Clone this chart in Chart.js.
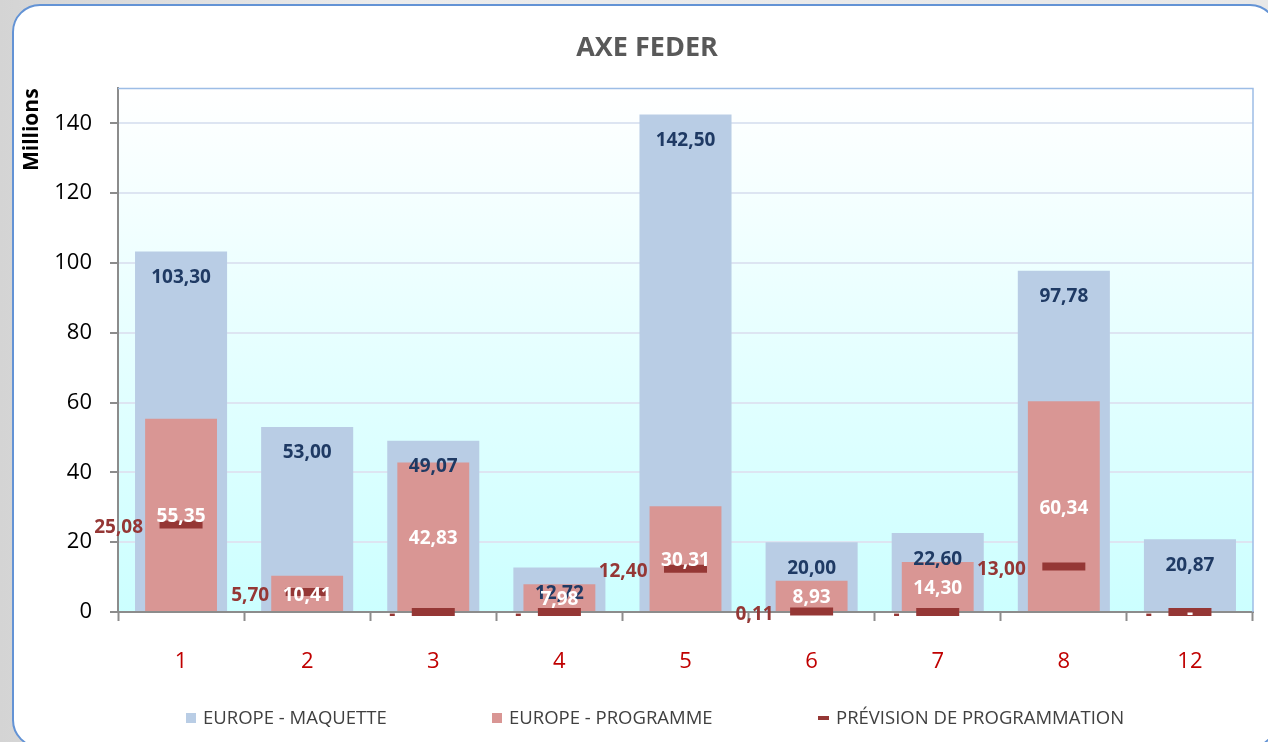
<!DOCTYPE html>
<html>
<head>
<meta charset="utf-8">
<script src="https://cdn.jsdelivr.net/npm/chart.js@4/dist/chart.umd.min.js"></script>
<style>
  html, body { margin: 0; padding: 0; width: 1268px; height: 742px; overflow: hidden; }
  body { background: linear-gradient(to right, #d4d4d4, #ececec 30%, #e8e8e8); font-family: "Open Sans", sans-serif; }
  #frame {
    position: absolute; left: 12px; top: 4px; width: 1262px; height: 740px;
    border: 2px solid #6393d5; border-radius: 28px; background: #fff;
  }
  #axeChart { position: absolute; left: 0; top: 0; }
  #legend { position: absolute; left: 0; top: 705px; width: 1268px; height: 24px; color: #404040; font-size: 18.5px; }
  .item { position: absolute; top: 0; line-height: 24px; white-space: nowrap; }
  .box { display: inline-block; width: 10px; height: 10px; margin-right: 7px; vertical-align: 1px; }
  .dash { display: inline-block; width: 11px; height: 4px; margin-right: 7px; vertical-align: 4px; background: #953735; }
</style>
</head>
<body>
<div id="frame"></div>
<canvas id="axeChart" width="1268" height="742"></canvas>
<div id="legend">
  <div class="item" style="left:186px"><span class="box" style="background:#b9cde5"></span>EUROPE - MAQUETTE</div>
  <div class="item" style="left:492px"><span class="box" style="background:#d99694"></span>EUROPE - PROGRAMME</div>
  <div class="item" style="left:818px"><span class="dash"></span>PRÉVISION DE PROGRAMMATION</div>
</div>
<script>
const categories = ['1', '2', '3', '4', '5', '6', '7', '8', '12'];
const maquette = [103.30, 53.00, 49.07, 12.72, 142.50, 20.00, 22.60, 97.78, 20.87];
const programme = [55.35, 10.41, 42.83, 7.98, 30.31, 8.93, 14.30, 60.34, 0];
const prevision = [25.08, 5.70, 0, 0, 12.40, 0.11, 0, 13.00, 0];
const yMax = 150;
const yStep = 20;

function fmt(v) {
    return v === 0 ? '-' : v.toFixed(2).replace('.', ',');
}

// fond dégradé + cadre du graphique
const fondPlot = {
    id: 'fondPlot',
    beforeDraw(chart) {
        const { ctx, chartArea: a } = chart;
        const g = ctx.createLinearGradient(0, a.top, 0, a.bottom);
        g.addColorStop(0, '#ffffff');
        g.addColorStop(1, '#ccffff');
        ctx.save();
        ctx.fillStyle = g;
        ctx.fillRect(a.left, a.top, a.right - a.left, a.bottom - a.top);
        ctx.restore();
    },
    afterDatasetsDraw(chart) {
        const { ctx, chartArea: a } = chart;
        ctx.save();
        ctx.strokeStyle = '#9dbde6';
        ctx.lineWidth = 1.5;
        ctx.beginPath();
        ctx.moveTo(a.left, a.top);
        ctx.lineTo(a.right, a.top);
        ctx.lineTo(a.right, a.bottom);
        ctx.stroke();
        ctx.restore();
    }
};

// étiquettes de valeurs
const etiquettes = {
    id: 'etiquettes',
    afterDatasetsDraw(chart) {
        const ctx = chart.ctx;
        ctx.save();
        ctx.font = 'bold 19px "Open Sans"';
        ctx.textBaseline = 'middle';

        const m0 = chart.getDatasetMeta(0);
        ctx.fillStyle = '#1f3a64';
        ctx.textAlign = 'center';
        m0.data.forEach((bar, i) => {
            ctx.fillText(fmt(maquette[i]), bar.x, bar.y + 26);
        });

        const m1 = chart.getDatasetMeta(1);
        ctx.fillStyle = '#ffffff';
        m1.data.forEach((bar, i) => {
            ctx.fillText(fmt(programme[i]), bar.x, (bar.y + bar.base) / 2 + 2);
        });

        const m2 = chart.getDatasetMeta(2);
        ctx.fillStyle = '#953735';
        ctx.textAlign = 'right';
        m2.data.forEach((pt, i) => {
            ctx.fillText(fmt(prevision[i]), pt.x - 38, pt.y + 3);
        });
        ctx.restore();
    }
};

const grafico = document.getElementById('axeChart');

new Chart(grafico, {
    type: 'bar',
    data: {
        labels: categories,
        datasets: [{
            label: 'EUROPE - MAQUETTE',
            data: maquette,
            backgroundColor: '#b9cde5',
            grouped: false,
            categoryPercentage: 1,
            barPercentage: 0.73,
            order: 3
        },
        {
            label: 'EUROPE - PROGRAMME',
            data: programme,
            backgroundColor: '#d99694',
            grouped: false,
            categoryPercentage: 1,
            barPercentage: 0.57,
            order: 2
        },
        {
            type: 'line',
            label: 'PRÉVISION DE PROGRAMMATION',
            data: prevision,
            showLine: false,
            borderColor: '#953735',
            backgroundColor: '#953735',
            pointStyle: 'line',
            pointRadius: 21.5,
            pointHoverRadius: 21.5,
            pointBorderWidth: 8,
            pointHoverBorderWidth: 8,
            clip: false,
            order: 1
        }]
    },
    options: {
        responsive: false,
        animation: false,
        layout: {
            autoPadding: false,
            padding: { left: 41, right: 15, top: 0, bottom: 0 }
        },
        plugins: {
            legend: { display: false },
            tooltip: { enabled: false },
            title: {
                display: true,
                text: 'AXE FEDER',
                color: '#595959',
                font: { family: 'Open Sans', size: 27, weight: 'bold' },
                padding: { top: 32, bottom: 24 }
            }
        },
        scales: {
            x: {
                afterFit: s => {
                    s.height = 130;
                    s.paddingLeft = 0;
                    s.paddingRight = 0;
                },
                grid: {
                    offset: true,
                    drawOnChartArea: false,
                    tickLength: 9,
                    tickWidth: 2,
                    tickColor: '#8c8c8c'
                },
                border: { color: '#8c8c8c', width: 2 },
                ticks: {
                    color: '#c00000',
                    padding: 28,
                    font: { family: 'Open Sans', size: 22 }
                }
            },
            y: {
                min: 0,
                max: yMax,
                afterFit: s => { s.width = 77; },
                ticks: {
                    stepSize: yStep,
                    includeBounds: false,
                    color: '#000000',
                    padding: 18,
                    font: { family: 'Open Sans', size: 22 }
                },
                grid: {
                    color: '#dde5f2',
                    lineWidth: 2,
                    tickLength: 8,
                    tickColor: '#8c8c8c',
                    tickWidth: 2
                },
                border: { color: '#8c8c8c', width: 2 },
                title: {
                    display: true,
                    text: 'Millions',
                    align: 'end',
                    color: '#000000',
                    font: { family: 'Open Sans', size: 21, weight: 'bold' },
                    padding: { top: -21.6, bottom: 0 }
                }
            }
        }
    },
    plugins: [fondPlot, etiquettes]
});
</script>
</body>
</html>
